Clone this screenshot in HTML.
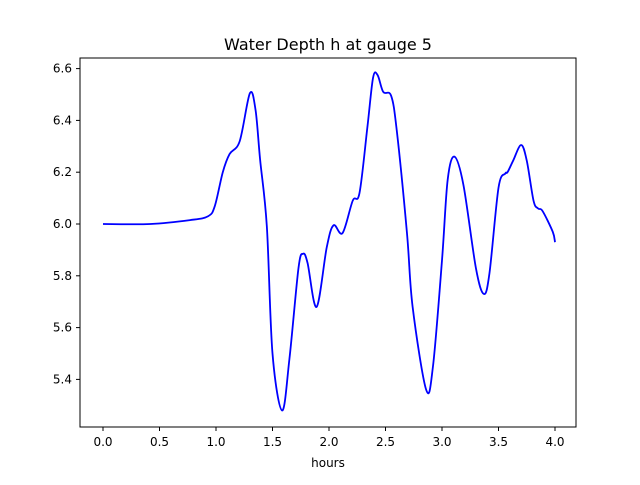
<!DOCTYPE html>
<html><head><meta charset="utf-8"><style>
html,body{margin:0;padding:0;background:#fff;}
svg text{font-family:"DejaVu Sans","Liberation Sans",sans-serif;}
</style></head><body>
<svg id="chart" width="640" height="480">
<rect width="640" height="480" fill="#fff"/>
<text x="328" y="50" font-size="16" text-anchor="middle">Water Depth h at gauge 5</text>
<g id="plot"></g>
<rect x="80" y="58" width="496" height="369" fill="none" stroke="#000" stroke-width="1"/>
<text x="328" y="467" font-size="12" text-anchor="middle">hours</text>
</svg>
<script>
const hours=[0,0.42,0.77,0.93,0.99,1.06,1.12,1.21,1.30,1.35,1.39,1.45,1.50,1.585,1.65,1.73,1.77,1.81,1.89,1.98,2.04,2.12,2.21,2.27,2.34,2.39,2.43,2.48,2.55,2.60,2.69,2.74,2.86,2.92,3.0,3.05,3.11,3.19,3.30,3.37,3.42,3.50,3.56,3.58,3.63,3.70,3.75,3.81,3.85,3.89,3.98,4.0];
const depth=[6.0,6.0,6.015,6.03,6.07,6.2,6.27,6.32,6.505,6.44,6.25,5.99,5.5,5.28,5.48,5.83,5.885,5.85,5.68,5.91,5.995,5.965,6.09,6.12,6.375,6.565,6.575,6.51,6.495,6.36,5.965,5.68,5.36,5.45,5.86,6.17,6.26,6.15,5.83,5.73,5.81,6.14,6.195,6.20,6.245,6.305,6.245,6.09,6.06,6.05,5.97,5.93];
const xTicks=[0.0,0.5,1.0,1.5,2.0,2.5,3.0,3.5,4.0];
const yTicks=[5.4,5.6,5.8,6.0,6.2,6.4,6.6];
const X=t=>103+(t-0)*113;
const Y=v=>224-(v-6.0)*259;
const ns="http://www.w3.org/2000/svg";
const g=document.getElementById('plot');
xTicks.forEach(t=>{
 const l=document.createElementNS(ns,'line');
 
 
 l.setAttribute('x1',X(t));l.setAttribute('x2',X(t));l.setAttribute('y1',427);l.setAttribute('y2',431);l.setAttribute('stroke','#000');
 g.appendChild(l);
 const tx=document.createElementNS(ns,'text');
 
 
 tx.setAttribute('x',X(t));tx.setAttribute('y',446);tx.setAttribute('font-size','12');tx.setAttribute('text-anchor','middle');
 tx.textContent=t.toFixed(1);g.appendChild(tx);
});
yTicks.forEach(v=>{
 const l=document.createElementNS(ns,'line');
 
 
 l.setAttribute('x1',76);l.setAttribute('x2',80);l.setAttribute('y1',Y(v));l.setAttribute('y2',Y(v));l.setAttribute('stroke','#000');
 g.appendChild(l);
 const tx=document.createElementNS(ns,'text');
 
 
 tx.setAttribute('x',72);tx.setAttribute('y',Y(v)+4);tx.setAttribute('font-size','12');tx.setAttribute('text-anchor','end');
 tx.textContent=v.toFixed(1);g.appendChild(tx);
});
const P=hours.map((h,i)=>[X(h),Y(depth[i])]);
let d='M'+P[0][0]+','+P[0][1];
for(let i=0;i<P.length-1;i++){
 const p0=P[Math.max(i-1,0)],p1=P[i],p2=P[i+1],p3=P[Math.min(i+2,P.length-1)];
 const c1=[p1[0]+(p2[0]-p0[0])/6,p1[1]+(p2[1]-p0[1])/6];
 const c2=[p2[0]-(p3[0]-p1[0])/6,p2[1]-(p3[1]-p1[1])/6];
 d+=` C${c1[0]},${c1[1]} ${c2[0]},${c2[1]} ${p2[0]},${p2[1]}`;
}
const path=document.createElementNS(ns,'path');


path.setAttribute('d',d);path.setAttribute('fill','none');path.setAttribute('stroke','#0000ff');path.setAttribute('stroke-width','1.8');
g.appendChild(path);
</script>
</body></html>
